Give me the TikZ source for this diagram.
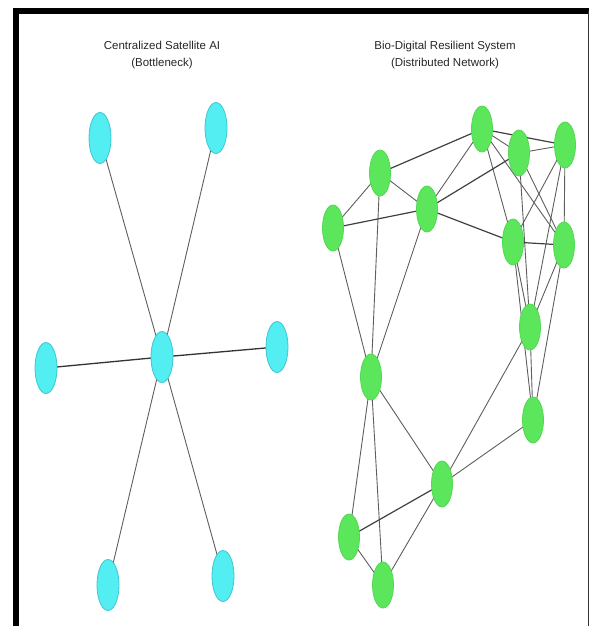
\documentclass[tikz,border=0pt]{standalone}
\usepackage{fontspec}
\setmainfont{Liberation Sans}
\usetikzlibrary{shapes.geometric,backgrounds}
\definecolor{cyanfill}{HTML}{52EEF2}
\definecolor{cyandraw}{HTML}{3FC6D0}
\definecolor{greenfill}{HTML}{5CE65C}
\definecolor{greendraw}{HTML}{52D852}
\definecolor{edgegray}{HTML}{5E5E5E}
\begin{document}
\begin{tikzpicture}[x=1pt,y=-1pt,
  cnode/.style={ellipse, fill=cyanfill, draw=cyandraw, line width=0.8pt, minimum width=22pt, minimum height=51pt, inner sep=0pt},
  gnode/.style={ellipse, fill=greenfill, draw=greendraw, line width=0.8pt, minimum width=21pt, minimum height=46pt, inner sep=0pt},
  link/.style={draw=edgegray, line width=0.9pt},
  heavylink/.style={draw=black!80, line width=1.3pt},
  title/.style={align=center, font=\fontsize{11.5}{17}\selectfont, text=black!85}]
\useasboundingbox (0,0) rectangle (590,626);
% frame
\draw[line width=6pt, black] (16,626) -- (16,11) -- (589,11);
\draw[line width=1.2pt, black!80] (588.4,11) -- (588.4,626);
% titles
\node[title] (t1) at (162,55) {Centralized Satellite AI\\(Bottleneck)};
\node[title] (t2) at (445,55) {Bio-Digital Resilient System\\(Distributed Network)};
% left graph
\node[cnode] (c)  at (162,357) {};
\node[cnode] (tl) at (100,138) {};
\node[cnode] (tr) at (216,128) {};
\node[cnode] (l)  at (46,368) {};
\node[cnode] (r)  at (277,347) {};
\node[cnode] (bl) at (108,585) {};
\node[cnode] (br) at (223,576) {};
% right graph
\node[gnode] (A) at (333,228) {};
\node[gnode] (B) at (380,173) {};
\node[gnode] (C) at (427,209) {};
\node[gnode] (D) at (482,129) {};
\node[gnode] (E) at (519,153) {};
\node[gnode] (F) at (565,145) {};
\node[gnode] (G) at (513,242) {};
\node[gnode] (H) at (564,245) {};
\node[gnode] (I) at (371,377) {};
\node[gnode] (J) at (530,327) {};
\node[gnode] (K) at (533,420) {};
\node[gnode] (L) at (442,484) {};
\node[gnode] (M) at (349,537) {};
\node[gnode] (N) at (383,585) {};
\begin{scope}[on background layer]
\foreach \n in {tl,tr,bl,br} \draw[link] (c.center) -- (\n.center);
\foreach \n in {l,r} \draw[heavylink] (c.center) -- (\n.center);
\foreach \a/\b in {A/B,A/I,B/C,B/I,C/D,C/I,D/E,D/G,D/H,E/F,E/H,F/G,F/H,G/J,G/K,E/J,F/J,H/J,H/K,J/K,J/L,K/L,I/L,I/M,I/N,L/N,M/N}
  \draw[link] (\a.center) -- (\b.center);
\foreach \a/\b in {A/C,B/D,C/E,C/G,D/F,G/H,L/M}
  \draw[link, line width=1.2pt, draw=black!75] (\a.center) -- (\b.center);
\end{scope}
\end{tikzpicture}
\end{document}
